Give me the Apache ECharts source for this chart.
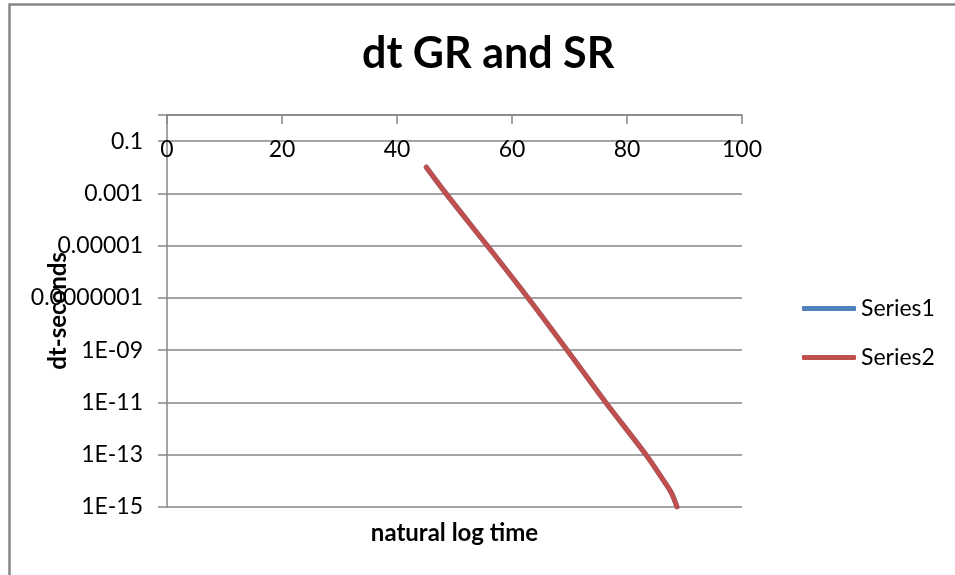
<!DOCTYPE html>
<html>
<head>
<meta charset="utf-8">
<script src="https://cdn.jsdelivr.net/npm/echarts@6/dist/echarts.min.js"></script>
<style>
html,body{margin:0;padding:0;background:#fff;}
#main{width:955px;height:575px;}
</style>
</head>
<body>
<div id="main"></div>
<script>
// Values
const seriesNames = ['Series1', 'Series2'];
const lnTime = [45.1, 48.5, 55.7, 62.8, 69.6, 76.3, 83.3, 86.4, 87.8, 88.7];
const dtSeconds = [1e-2, 1e-3, 1e-5, 1e-7, 1e-9, 1e-11, 1e-13, 1e-14, 3.2e-15, 1e-15];
const series1 = lnTime.map((x, i) => [x, dtSeconds[i]]);
const series2 = lnTime.map((x, i) => [x, dtSeconds[i]]);
const yLabels = {'-1':'0.1','-3':'0.001','-5':'0.00001','-7':'0.0000001','-9':'1E-09','-11':'1E-11','-13':'1E-13','-15':'1E-15'};

const FONT = 'Lato';
const GRAY = '#868686';
const chart = echarts.init(document.getElementById('main'));
chart.setOption({
  animation: false,
  backgroundColor: '#fff',
  textStyle: { fontFamily: FONT },
  title: {
    text: 'dt GR and SR',
    left: 357, top: 28,
    textStyle: { fontFamily: FONT, fontSize: 43, fontWeight: 'bold', color: '#000' }
  },
  graphic: [{
    type: 'rect', left: 7, top: 2, z: -1,
    shape: { width: 1000, height: 640 },
    style: { fill: 'none', stroke: GRAY, lineWidth: 2.5 }
  }],
  legend: {
    orient: 'vertical', left: 797, top: 292,
    itemWidth: 54, itemHeight: 5, itemGap: 26,
    icon: 'roundRect',
    textStyle: { fontFamily: FONT, fontSize: 23, color: '#000' },
    data: seriesNames
  },
  grid: { left: 167, right: 213, top: 115, bottom: 68, containLabel: false, outerBoundsMode: 'none' },
  xAxis: [{
    type: 'value', position: 'top', min: 0, max: 100, interval: 20,
    axisLine: { show: true, lineStyle: { color: GRAY, width: 1.5 } },
    axisTick: { show: true, inside: true, length: 9, lineStyle: { color: GRAY, width: 1.5 } },
    axisLabel: { inside: true, margin: 23, fontSize: 23, color: '#000', fontFamily: FONT },
    splitLine: { show: false }
  }, {
    type: 'value', position: 'bottom', min: 0, max: 100, interval: 20,
    axisLine: { show: false }, axisTick: { show: false }, axisLabel: { show: false },
    splitLine: { show: false },
    name: 'natural log time', nameLocation: 'middle', nameGap: 14, nameMoveOverlap: false,
    nameTextStyle: { fontFamily: FONT, fontSize: 24, fontWeight: 'bold', color: '#000' }
  }],
  yAxis: {
    type: 'log', logBase: 10, min: 1e-15, max: 1, interval: 2,
    axisLine: { show: true, lineStyle: { color: GRAY, width: 1.5 } },
    axisTick: { show: true, length: 9, lineStyle: { color: GRAY, width: 1.5 } },
    axisLabel: {
      margin: 24, fontSize: 23, color: '#000', fontFamily: FONT,
      formatter: function (v) {
        const e = Math.round(Math.log10(v));
        return yLabels[String(e)] || '';
      }
    },
    splitLine: { show: true, lineStyle: { color: GRAY, width: 1.5 } },
    name: 'dt-seconds', nameLocation: 'middle', nameGap: 97, nameRotate: 90, nameMoveOverlap: false,
    nameTextStyle: { fontFamily: FONT, fontSize: 24, fontWeight: 'bold', color: '#000' }
  },
  series: [{
    name: 'Series1', type: 'line', data: series1, showSymbol: false, symbol: 'none', smooth: 0.3,
    lineStyle: { color: '#4F81BD', width: 5, cap: 'round' }, itemStyle: { color: '#4F81BD' }, z: 2
  }, {
    name: 'Series2', type: 'line', data: series2, showSymbol: false, symbol: 'none', smooth: 0.3,
    lineStyle: { color: '#C0504D', width: 5, cap: 'round' }, itemStyle: { color: '#C0504D' }, z: 3
  }]
});
</script>
</body>
</html>
